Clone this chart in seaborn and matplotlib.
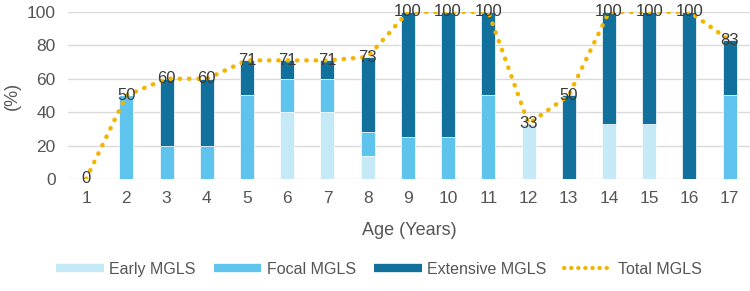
import numpy as np
import pandas as pd
import matplotlib
matplotlib.use("Agg")
import matplotlib.pyplot as plt
from matplotlib.lines import Line2D
import seaborn as sns

sns.set_theme(style="white")
plt.rcParams['font.family'] = ['Liberation Sans', 'DejaVu Sans']

ages = list(range(1, 18))
early = [0, 0, 0, 0, 0, 40, 40, 14, 0, 0, 0, 33, 0, 33, 33, 0, 0]
focal = [0, 50, 20, 20, 50, 20, 20, 14, 25, 25, 50, 0, 0, 0, 0, 0, 50]
extensive = [0, 0, 40, 40, 21, 11, 11, 45, 75, 75, 50, 0, 50, 67, 67, 100, 33]
total = [0, 50, 60, 60, 71, 71, 71, 73, 100, 100, 100, 33, 50, 100, 100, 100, 83]

c_early = "#c6e9f8"
c_focal = "#5ec4ee"
c_ext = "#11719c"
c_total = "#f2b600"
txt = "#555555"

df = pd.DataFrame({"age": ages, "early": early, "focal": focal,
                   "extensive": extensive, "total": total})
df["b_focal"] = df.early
df["b_ext"] = df.early + df.focal

fig = plt.figure(figsize=(7.5, 2.91), dpi=100)
ax = fig.add_axes([0.0907, 0.385, 0.909, 0.574])

for y in range(0, 101, 20):
    ax.axhline(y, color="#dadada", lw=1, zorder=0)

sns.barplot(data=df, x="age", y="early", native_scale=True, width=0.35,
            color=c_early, saturation=1, edgecolor="white", linewidth=0.5, ax=ax)
sns.barplot(data=df, x="age", y="focal", bottom=df.b_focal, native_scale=True,
            width=0.35, color=c_focal, saturation=1, edgecolor="white",
            linewidth=0.5, ax=ax)
sns.barplot(data=df, x="age", y="extensive", bottom=df.b_ext, native_scale=True,
            width=0.35, color=c_ext, saturation=1, edgecolor="white",
            linewidth=0.5, ax=ax)
sns.lineplot(data=df, x="age", y="total", color=c_total, lw=3.2,
             linestyle=(0, (0.1, 2.0)), dash_capstyle="round", ax=ax, zorder=3)

for a, t in zip(ages, total):
    ax.text(a, t, str(t), ha="center", va="center", fontsize=12,
            color="#3a3a3a", zorder=4)

ax.set_xlim(0.55, 17.5)
ax.set_ylim(0, 100)
ax.set_xticks(ages)
ax.set_xticklabels([str(a) for a in ages])
ax.set_yticks(range(0, 101, 20))
ax.tick_params(axis="both", labelsize=12.5, labelcolor=txt, length=0)
ax.tick_params(axis="x", pad=9)
ax.tick_params(axis="y", pad=9)
ax.set_xlabel("Age (Years)", fontsize=13, color=txt, labelpad=11)
ax.set_ylabel("(%)", fontsize=13, color=txt, labelpad=4)
sns.despine(ax=ax, left=True, bottom=True)

handles = [
    Line2D([], [], color=c_early, lw=6, solid_capstyle="butt"),
    Line2D([], [], color=c_focal, lw=6, solid_capstyle="butt"),
    Line2D([], [], color=c_ext, lw=6, solid_capstyle="butt"),
    Line2D([], [], color=c_total, lw=3, linestyle=(0, (0.1, 1.6)),
           dash_capstyle="round"),
]
labels = ["Early MGLS", "Focal MGLS", "Extensive MGLS", "Total MGLS"]
leg = fig.legend(handles, labels, loc="center", bbox_to_anchor=(0.505, 0.075),
                 ncol=4, frameon=False, fontsize=11.5, handlelength=3.0,
                 columnspacing=1.1, handletextpad=0.35)
for t in leg.get_texts():
    t.set_color(txt)

fig.savefig("out.png", dpi=100)
